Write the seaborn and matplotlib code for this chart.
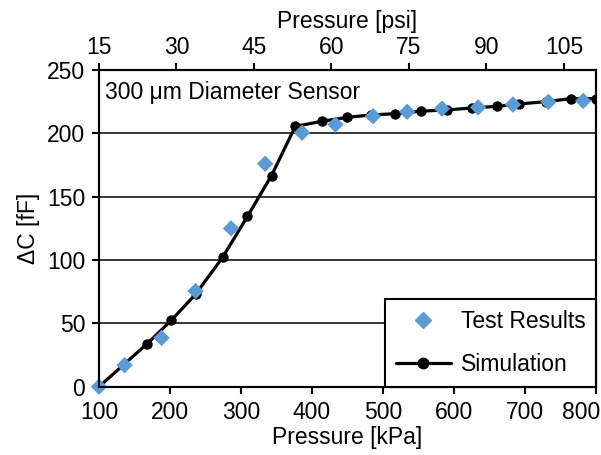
import matplotlib
matplotlib.use("Agg")
import matplotlib.pyplot as plt
import matplotlib.transforms as mtransforms
import seaborn as sns
import pandas as pd
from matplotlib.lines import Line2D

# Data
test_kpa = [100, 136, 188, 236, 286, 334, 386, 433, 486, 534, 583, 634, 683, 733, 782]
test_dc = [0, 17, 38.5, 75.5, 125, 176, 200.5, 207, 213.5, 217, 219.5, 220.5, 222.7, 224.8, 225.6]
sim_kpa = [100, 168, 202, 236, 274, 309, 343, 376.5, 414, 449, 483, 517, 554, 590, 625, 660, 692, 729, 765, 800]
sim_dc = [0, 34, 52.5, 73, 102, 134.4, 166.7, 205.5, 209.5, 212.6, 214.5, 215.5, 217.5, 218.5, 220, 221.3, 223.2, 225, 227.4, 227.5]
psi_ticks = [15, 30, 45, 60, 75, 90, 105]
psi_range = [15, 111.2]
y_ticks = [0, 50, 100, 150, 200, 250]
x_ticks = [100, 200, 300, 400, 500, 600, 700, 800]

FS = 16.5
sns.set_theme(style="white")
plt.rcParams['font.family'] = ['Liberation Sans', 'DejaVu Sans']
plt.rcParams['font.size'] = FS
plt.rcParams['text.color'] = 'black'
plt.rcParams['axes.labelcolor'] = 'black'
plt.rcParams['xtick.color'] = 'black'
plt.rcParams['ytick.color'] = 'black'

fig = plt.figure(figsize=(6.01, 4.55), dpi=100)
ax = fig.add_axes([99/601, 68.3/455, 497/601, 316.7/455])

for y in [50, 100, 150, 200]:
    ax.axhline(y, color="black", lw=1.1, zorder=0.5)

sim_df = pd.DataFrame({"kPa": sim_kpa, "dC": sim_dc})
test_df = pd.DataFrame({"kPa": test_kpa, "dC": test_dc})

sns.lineplot(data=sim_df, x="kPa", y="dC", ax=ax, color="black", lw=2.3,
             marker="o", markersize=7.5, markeredgewidth=0, zorder=2, sort=False)
sns.scatterplot(data=test_df, x="kPa", y="dC", ax=ax, color="#5B9BD5", marker="D",
                s=70, edgecolor="none", zorder=3, clip_on=False)

ax.set_xlim(100, 800)
ax.set_ylim(0, 250)
ax.set_xticks(x_ticks)
ax.set_yticks(y_ticks)
ax.set_xlabel("Pressure [kPa]", fontsize=FS, labelpad=2)
ax.set_ylabel("ΔC [fF]", fontsize=FS, labelpad=5)
ax.tick_params(axis="x", labelsize=FS, direction="out", length=5, width=1.5,
               color="black", pad=5, bottom=True)
ax.tick_params(axis="y", labelsize=FS, direction="out", length=5, width=1.5,
               color="black", pad=5, left=True)
for sp in ax.spines.values():
    sp.set_color("black")
    sp.set_linewidth(1.5)

# last x tick label shifted so it stays inside the figure
fig.canvas.draw()
lbl = ax.get_xticklabels()[-1]
lbl.set_horizontalalignment("right")
lbl.set_transform(lbl.get_transform() + mtransforms.ScaledTranslation(4/100, 0, fig.dpi_scale_trans))

top = ax.twiny()
top.set_xlim(*psi_range)
top.set_xticks(psi_ticks)
top.set_xlabel("Pressure [psi]", fontsize=FS, labelpad=6)
top.tick_params(axis="x", labelsize=FS, direction="out", length=5, width=1.5,
                color="black", pad=3, top=True)
top.grid(False)
for sp in top.spines.values():
    sp.set_color("black")
    sp.set_linewidth(1.5)

ax.text(0.012, 0.93, "300 μm Diameter Sensor", transform=ax.transAxes,
        fontsize=FS, va="center", ha="left")

handles = [
    Line2D([], [], color="#5B9BD5", marker="D", ls="none", markersize=8),
    Line2D([], [], color="black", marker="o", lw=2.3, markersize=7.5),
]
leg = ax.legend(handles, ["Test Results", "Simulation"], loc="lower right",
                borderaxespad=0, fancybox=False, framealpha=1, edgecolor="black",
                fontsize=FS, handlelength=2.4, handletextpad=0.45,
                borderpad=0.45, labelspacing=0.9)
leg.get_frame().set_linewidth(1.5)
leg.set_zorder(5)

fig.savefig("out.png", dpi=100)
